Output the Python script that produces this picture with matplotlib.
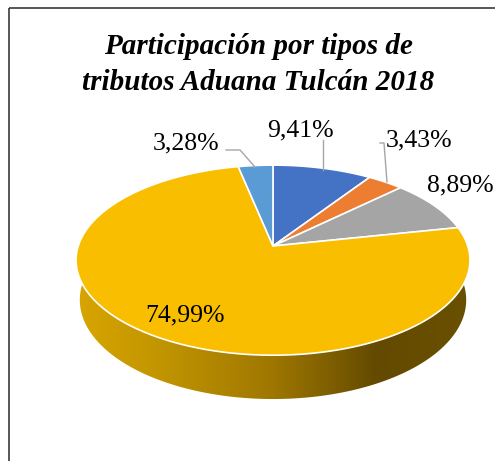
import numpy as np
import matplotlib.pyplot as plt
from matplotlib.patches import Polygon, Rectangle
from matplotlib.colors import LinearSegmentedColormap

# datos del grafico
titulo = ['Participación por tipos de', 'tributos Aduana Tulcán 2018']
porcentajes = [9.41, 3.43, 8.89, 74.99, 3.28]
etiquetas = ['9,41%', '3,43%', '8,89%', '74,99%', '3,28%']
colores = ['#4472C4', '#EC7D31', '#A5A5A5', '#F9BE00', '#5B9BD5']

# posicion de cada etiqueta (pixeles) y su linea guia
pos_etiquetas = [(300, 130), (419, 140), (460, 185), (185, 315), (186, 143)]
guias = [[(323, 140), (323, 170)],
         [(380, 143), (384, 143), (387, 182)],
         None,
         None,
         [(226, 150), (240, 150), (255, 167)]]

# vista 3D con perspectiva (estilo Excel)
cx, cy = 273, 246
foco, dist = 1149, 5.9
elev = np.radians(28.5)
grosor = 0.235


def proyectar(phi, r=1.0, h=0.0):
    x = r * np.cos(phi)
    z = r * np.sin(phi)
    yc = h * np.cos(elev) + z * np.sin(elev)
    dc = dist + z * np.cos(elev) - h * np.sin(elev)
    return cx + foco * x / dc, cy - foco * yc / dc


fig = plt.figure(figsize=(4.95, 4.61), dpi=100)
ax = fig.add_axes([0, 0, 1, 1])
ax.axis('off')

# lado del cilindro (solo la parte frontal es visible)
phi = np.linspace(np.pi - 0.15, 2 * np.pi + 0.15, 300)
xs_top, ys_top = proyectar(phi)
xs_bot, ys_bot = proyectar(phi[::-1], h=-grosor)
lado = np.column_stack([np.concatenate([xs_top, xs_bot]),
                        np.concatenate([ys_top, ys_bot])])
borde_lado = Polygon(lado, closed=True, facecolor='none', edgecolor='none')
ax.add_patch(borde_lado)

x_min, x_max = lado[:, 0].min(), lado[:, 0].max()
paradas = [(0.0, '#D8A500'), (0.19, '#C49700'), (0.49, '#A07800'),
           (0.72, '#6E5200'), (0.76, '#634A00'), (1.0, '#6A5000')]
cmap_lado = LinearSegmentedColormap.from_list('lado', paradas)
grad = np.linspace(0, 1, 400).reshape(1, -1)
img = ax.imshow(grad, cmap=cmap_lado, aspect='auto',
                extent=(x_min, x_max, lado[:, 1].max() + 2, lado[:, 1].min() - 2),
                interpolation='bilinear', zorder=1)
img.set_clip_path(borde_lado)

# cara superior: porciones en sentido horario desde arriba
inicio = np.pi / 2
for valor, color in zip(porcentajes, colores):
    fin = inicio - valor / 100 * 2 * np.pi
    ang = np.linspace(inicio, fin, max(int(valor * 4), 8))
    px, py = proyectar(ang)
    pts = np.column_stack([np.concatenate([[cx], px]), np.concatenate([[cy], py])])
    ax.add_patch(Polygon(pts, closed=True, facecolor=color, edgecolor='white',
                         linewidth=1.2, joinstyle='round', zorder=2))
    inicio = fin

# etiquetas de datos y lineas guia
for texto, (x, y), guia in zip(etiquetas, pos_etiquetas, guias):
    ax.text(x, y, texto, ha='center', va='center', fontsize=18.5,
            family='Liberation Serif', color='black', zorder=4)
    if guia is not None:
        gx, gy = zip(*guia)
        ax.plot(gx, gy, color='#A6A6A6', linewidth=1.0, zorder=3)

# titulo
ax.text(258, 47, titulo[0], ha='center', va='center', fontsize=21,
        fontweight='bold', fontstyle='italic', family='Liberation Serif')
ax.text(258, 82, titulo[1], ha='center', va='center', fontsize=21,
        fontweight='bold', fontstyle='italic', family='Liberation Serif')

# borde del area del grafico
ax.add_patch(Rectangle((9, 8.5), 700, 700, facecolor='none',
                       edgecolor='#3A3A3A', linewidth=1.2, zorder=5))

ax.set_xlim(0, 495)
ax.set_ylim(461, 0)
fig.savefig('out.png', dpi=100)
